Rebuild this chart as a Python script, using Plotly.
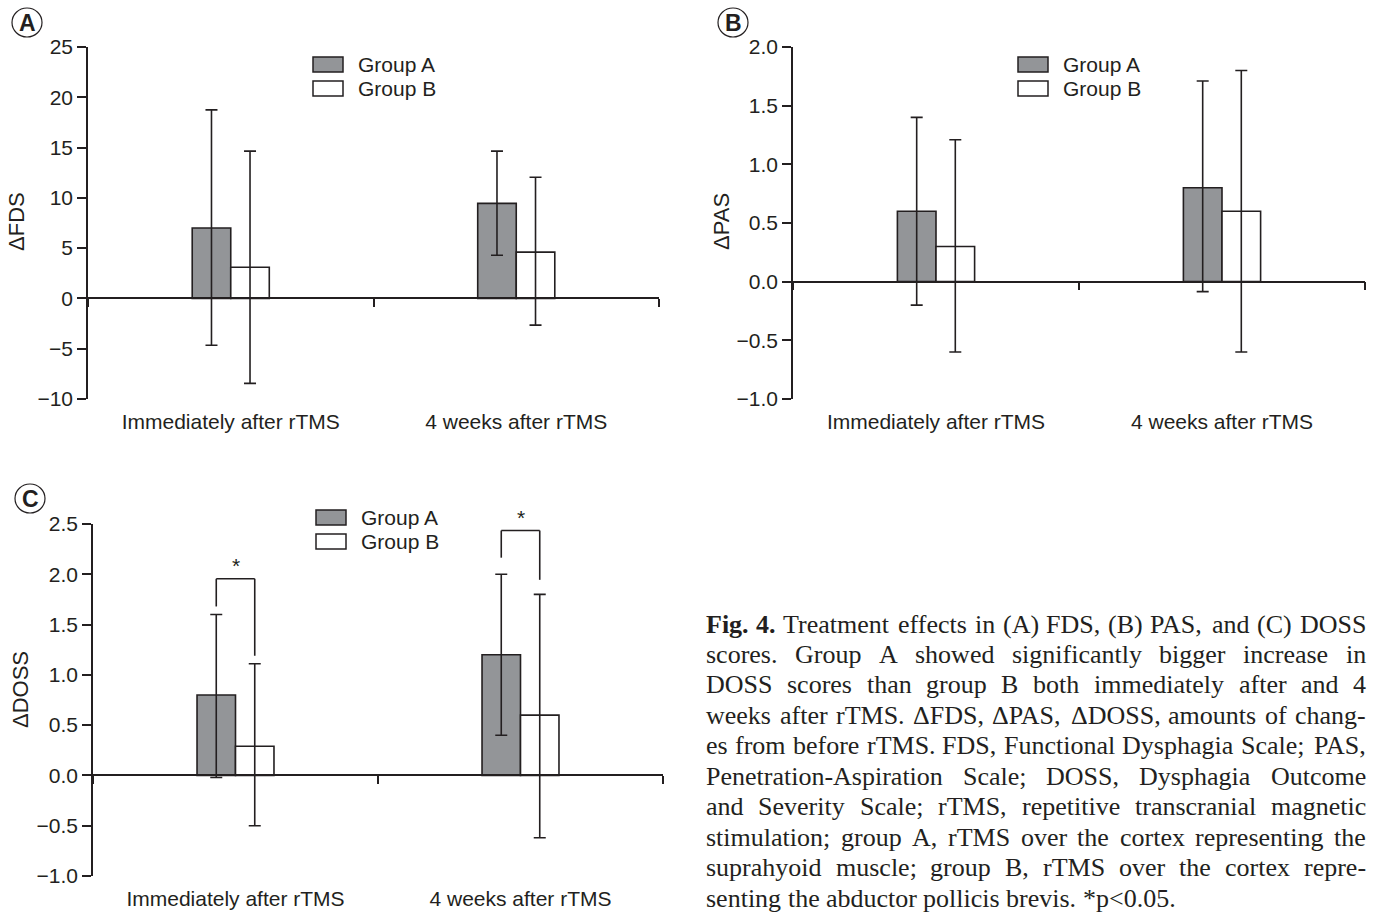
import plotly.graph_objects as go

# ---------------- data ----------------
categories = ["Immediately after rTMS", "4 weeks after rTMS"]

fds_a = [7.0, 9.45]
fds_a_hi = [18.75, 14.65]
fds_a_lo = [-4.65, 4.3]
fds_b = [3.1, 4.6]
fds_b_hi = [14.65, 12.05]
fds_b_lo = [-8.45, -2.65]

pas_a = [0.6, 0.8]
pas_a_hi = [1.4, 1.71]
pas_a_lo = [-0.2, -0.085]
pas_b = [0.3, 0.6]
pas_b_hi = [1.21, 1.8]
pas_b_lo = [-0.6, -0.6]

doss_a = [0.8, 1.2]
doss_a_hi = [1.6, 2.0]
doss_a_lo = [-0.02, 0.4]
doss_b = [0.29, 0.6]
doss_b_hi = [1.11, 1.8]
doss_b_lo = [-0.5, -0.62]

# significance brackets for DOSS: left leg bottom, top, right leg bottom
sig_left = [1.68, 2.165]
sig_top = [1.955, 2.435]
sig_right = [1.19, 1.945]
sig_labels = ["*", "*"]

group_names = ["Group A", "Group B"]

caption_lines = [
    "Fig. 4. Treatment effects in (A) FDS, (B) PAS, and (C) DOSS",
    "scores. Group A showed significantly bigger increase in",
    "DOSS scores than group B both immediately after and 4",
    "weeks after rTMS. ΔFDS, ΔPAS, ΔDOSS, amounts of chang-",
    "es from before rTMS. FDS, Functional Dysphagia Scale; PAS,",
    "Penetration-Aspiration Scale; DOSS, Dysphagia Outcome",
    "and Severity Scale; rTMS, repetitive transcranial magnetic",
    "stimulation; group A, rTMS over the cortex representing the",
    "suprahyoid muscle; group B, rTMS over the cortex repre-",
    "senting the abductor pollicis brevis. *p<0.05.",
]
caption_bold_words = 2  # "Fig." and "4." are bold

# ---------------- style ----------------
W, H = 1375, 915
DARK = "#231f20"
GRAY = "#939598"
WHITE = "#ffffff"
SANS = "Liberation Sans, Arial, sans-serif"
SERIF = "Liberation Serif, Times New Roman, serif"
BARGAP = 0.73
CAP_SIZE = 26

# Times-Roman advance widths (1/1000 em); Liberation Serif is metric-compatible
TIMES = {" ": 250, "!": 333, "(": 333, ")": 333, "*": 500, ",": 250, "-": 333, ".": 250,
         ":": 278, ";": 278, "<": 564, "Δ": 612}
for ch in "0123456789":
    TIMES[ch] = 500
TIMES.update(dict(zip("ABCDEFGHIJKLMNOPQRSTUVWXYZ",
                      [722, 667, 667, 722, 611, 556, 722, 722, 333, 389, 722, 611, 889,
                       722, 722, 556, 722, 667, 556, 611, 722, 722, 944, 722, 722, 611])))
TIMES.update(dict(zip("abcdefghijklmnopqrstuvwxyz",
                      [444, 500, 444, 500, 444, 333, 500, 500, 278, 278, 500, 278, 778,
                       500, 500, 500, 500, 333, 389, 278, 500, 500, 722, 500, 500, 444])))
TIMES_BOLD = dict(TIMES)
TIMES_BOLD.update({"F": 611, "i": 278, "g": 500, ".": 250, "4": 500})


def text_w(s, size, bold=False):
    tbl = TIMES_BOLD if bold else TIMES
    return sum(tbl.get(c, 500) for c in s) * size / 1000.0


def px(x):
    return x / W


def py(y):
    return 1 - y / H


panels = [
    dict(key="", a=fds_a, ahi=fds_a_hi, alo=fds_a_lo, b=fds_b, bhi=fds_b_hi, blo=fds_b_lo,
         xdom=(88, 659), ydom=(47, 399), yr=(-10, 25), dtick=5, fmt="d",
         title="ΔFDS", title_xy=(17, 222), label="A", circ=(27, 22),
         legend=(313, 57)),
    dict(key="2", a=pas_a, ahi=pas_a_hi, alo=pas_a_lo, b=pas_b, bhi=pas_b_hi, blo=pas_b_lo,
         xdom=(793, 1365), ydom=(47, 399), yr=(-1, 2), dtick=0.5, fmt=".1f",
         title="ΔPAS", title_xy=(722, 222), label="B", circ=(733, 22),
         legend=(1018, 57)),
    dict(key="3", a=doss_a, ahi=doss_a_hi, alo=doss_a_lo, b=doss_b, bhi=doss_b_hi, blo=doss_b_lo,
         xdom=(93, 663), ydom=(524, 876), yr=(-1, 2.5), dtick=0.5, fmt=".1f",
         title="ΔDOSS", title_xy=(20, 690), label="C", circ=(30, 498),
         legend=(316, 510)),
]

fig = go.Figure()
shapes = []
annotations = []
layout_axes = {}

for i, p in enumerate(panels):
    k = p["key"]
    xname, yname = "x" + k, "y" + k
    zname_idx = 4 + i
    zx = "x" + str(zname_idx)
    for vals, hi, lo, fill, nm in [
        (p["a"], p["ahi"], p["alo"], GRAY, group_names[0]),
        (p["b"], p["bhi"], p["blo"], WHITE, group_names[1]),
    ]:
        fig.add_trace(go.Bar(
            x=categories, y=vals, name=nm, showlegend=False,
            xaxis=xname, yaxis=yname,
            marker=dict(color=fill, line=dict(color=DARK, width=1.6)),
            error_y=dict(type="data", symmetric=False,
                         array=[h - v for h, v in zip(hi, vals)],
                         arrayminus=[v - l for l, v in zip(lo, vals)],
                         color=DARK, thickness=1.6, width=6),
            hoverinfo="skip",
        ))
    # invisible trace that carries the zero-line axis
    fig.add_trace(go.Scatter(x=[-0.5, 1.5], y=[0, 0], mode="lines",
                             line=dict(width=0), xaxis=zx, yaxis=yname,
                             showlegend=False, hoverinfo="skip"))

    xd = [px(p["xdom"][0]), px(p["xdom"][1])]
    yd = [py(p["ydom"][1]), py(p["ydom"][0])]
    yr = p["yr"]
    zero_pos = yd[0] + (0 - yr[0]) / (yr[1] - yr[0]) * (yd[1] - yd[0])

    layout_axes["xaxis" + k] = dict(
        domain=xd, anchor=yname, type="category", range=[-0.5, 1.5],
        showline=False, ticks="", showgrid=False, zeroline=False, automargin=False,
        tickfont=dict(family=SANS, size=21, color=DARK), ticklabelstandoff=8,
    )
    layout_axes["yaxis" + k] = dict(
        domain=yd, anchor=xname, range=list(yr), dtick=p["dtick"], tick0=0,
        tickformat=p["fmt"], showline=True, linecolor=DARK, linewidth=1.5,
        ticks="outside", ticklen=9, tickwidth=1.5, tickcolor=DARK,
        showgrid=False, zeroline=False, automargin=False,
        tickfont=dict(family=SANS, size=21, color=DARK), ticklabelstandoff=0,
    )
    layout_axes["xaxis" + str(zname_idx)] = dict(
        domain=xd, anchor="free", position=zero_pos, overlaying=xname,
        type="linear", range=[-0.5, 1.5], tickvals=[-0.5, 0.5, 1.5],
        showline=True, linecolor=DARK, linewidth=1.5, ticks="outside",
        ticklen=8, tickwidth=1.5, tickcolor=DARK, showticklabels=False,
        showgrid=False, zeroline=False, automargin=False,
    )

    # axis title
    tx, ty = p["title_xy"]
    annotations.append(dict(x=px(tx), y=py(ty), xref="paper", yref="paper",
                            text=p["title"], textangle=-90, showarrow=False,
                            font=dict(family=SANS, size=22, color=DARK),
                            xanchor="center", yanchor="middle"))
    # panel label
    cx, cy = p["circ"]
    shapes.append(dict(type="circle", xref="paper", yref="paper",
                       x0=px(cx - 15), x1=px(cx + 15), y0=py(cy + 15), y1=py(cy - 14),
                       line=dict(color=DARK, width=1.2)))
    annotations.append(dict(x=px(cx), y=py(cy + 1), xref="paper", yref="paper",
                            text="<b>" + p["label"] + "</b>", showarrow=False,
                            font=dict(family=SANS, size=23, color=DARK),
                            xanchor="center", yanchor="middle"))
    # legend
    lx, ly = p["legend"]
    for j, (nm, fill) in enumerate(zip(group_names, [GRAY, WHITE])):
        top = ly + j * 24
        shapes.append(dict(type="rect", xref="paper", yref="paper",
                           x0=px(lx), x1=px(lx + 30), y0=py(top + 15), y1=py(top),
                           fillcolor=fill, line=dict(color=DARK, width=1.5)))
        annotations.append(dict(x=px(lx + 43), y=py(top + 7.5), xref="paper", yref="paper",
                                text=nm, showarrow=False,
                                font=dict(family=SANS, size=21, color=DARK),
                                xanchor="left", yanchor="middle"))

# significance brackets on panel C (positions follow bar layout)
half = (1 - BARGAP) / 4.0
for ci in range(len(categories)):
    xl, xr = ci - half, ci + half
    for (x0, y0, x1, y1) in [(xl, sig_left[ci], xl, sig_top[ci]),
                             (xl, sig_top[ci], xr, sig_top[ci]),
                             (xr, sig_top[ci], xr, sig_right[ci])]:
        shapes.append(dict(type="line", xref="x3", yref="y3",
                           x0=x0, y0=y0, x1=x1, y1=y1,
                           line=dict(color=DARK, width=1.6)))
    annotations.append(dict(x=ci, y=sig_top[ci], xref="x3", yref="y3",
                            text=sig_labels[ci], showarrow=False, yshift=0,
                            font=dict(family=SANS, size=21, color=DARK),
                            xanchor="center", yanchor="bottom"))

# caption, justified word by word
CAP_L, CAP_R = 706, 1366
for li, line in enumerate(caption_lines):
    yc = py(624 + li * 30.45)
    words = line.split(" ")
    bold_flags = [(li == 0 and wi < caption_bold_words) for wi in range(len(words))]
    widths = [text_w(w, CAP_SIZE, b) for w, b in zip(words, bold_flags)]
    last = li == len(caption_lines) - 1
    if last or len(words) == 1:
        gap = text_w(" ", CAP_SIZE)
    else:
        gap = (CAP_R - CAP_L - sum(widths)) / (len(words) - 1)
    xcur = CAP_L
    for wi, (w, b, ww) in enumerate(zip(words, bold_flags, widths)):
        if not last and wi == len(words) - 1 and len(words) > 1:
            xa, anchor = CAP_R, "right"
        else:
            xa, anchor = xcur, "left"
        annotations.append(dict(x=px(xa), y=yc, xref="paper", yref="paper",
                                text=("<b>" + w + "</b>") if b else w, showarrow=False,
                                font=dict(family=SERIF, size=CAP_SIZE, color=DARK),
                                xanchor=anchor, yanchor="middle",
                                borderpad=0, borderwidth=0))
        xcur += ww + gap

fig.update_layout(
    template="none",
    width=W, height=H, margin=dict(l=0, r=0, t=0, b=0, pad=0, autoexpand=False),
    paper_bgcolor="white", plot_bgcolor="white",
    barmode="group", bargap=BARGAP, bargroupgap=0,
    showlegend=False, shapes=shapes, annotations=annotations,
    font=dict(family=SANS, color=DARK),
    **layout_axes,
)

fig.write_html(
    "out.html",
    config={"displayModeBar": False},
    post_script="document.body.style.margin='0';document.body.style.overflow='hidden';",
)
